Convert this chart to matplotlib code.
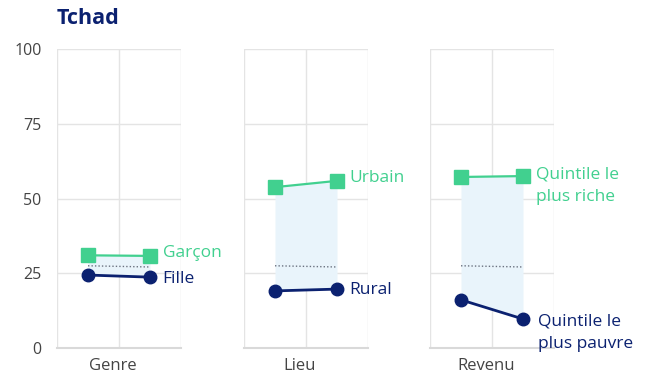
import matplotlib.pyplot as plt
import numpy as np

plt.rcParams['font.family'] = ['Open Sans', 'DejaVu Sans']

# data
panels = ["Genre", "Lieu", "Revenu"]
top_labels = ["Garçon", "Urbain", "Quintile le\nplus riche"]
bottom_labels = ["Fille", "Rural", "Quintile le\nplus pauvre"]
top_vals = [[31.0, 30.8], [53.8, 55.9], [57.2, 57.5]]
bottom_vals = [[24.4, 23.7], [19.1, 19.7], [16.1, 9.7]]
avg_vals = [[27.5, 27.1], [27.5, 27.1], [27.5, 27.1]]

green = "#41d08f"
navy = "#0b2170"
grid_col = "#e4e4e4"

fig = plt.figure(figsize=(6.58, 3.81), dpi=100)
lefts = [57 / 658, 244 / 658, 430 / 658]
x = np.array([1, 3])

for i, name in enumerate(panels):
    ax = fig.add_axes([lefts[i], 0.0866, 124 / 658, 0.7848])
    top = np.array(top_vals[i])
    bot = np.array(bottom_vals[i])

    ax.fill_between(x, bot, top, color="#e9f4fb", lw=0, zorder=1)
    ax.plot(x, avg_vals[i], ls=(0, (1, 1.5)), color="#6b7280", lw=1, zorder=2)
    ax.plot(x, top, color=green, lw=1.6, marker="s", ms=10, zorder=3)
    ax.plot(x, bot, color=navy, lw=2, marker="o", ms=9, zorder=3)

    dy_top, dy_bot, dx_bot = 2, -1, 9
    if i == 2:
        dy_top, dy_bot, dx_bot = -7, -10, 11
    ax.annotate(top_labels[i], (x[1], top[1]), xytext=(9, dy_top),
                textcoords="offset points", color=green, fontsize=12.5,
                va="center", ha="left", linespacing=1.5, annotation_clip=False)
    ax.annotate(bottom_labels[i], (x[1], bot[1]), xytext=(dx_bot, dy_bot),
                textcoords="offset points", color=navy, fontsize=12.5,
                va="center", ha="left", linespacing=1.5, annotation_clip=False)

    ax.set_xlim(0, 4)
    ax.set_ylim(0, 100)
    ax.set_xticks([0, 2, 4])
    ax.set_xticklabels([])
    ax.set_yticks([0, 25, 50, 75, 100])
    ax.grid(True, color=grid_col, lw=1)
    ax.set_axisbelow(True)
    ax.tick_params(length=0, labelsize=11.5, labelcolor="#444444", pad=11)
    if i > 0:
        ax.set_yticklabels([])
    for s in ["top", "right", "left"]:
        ax.spines[s].set_visible(False)
    ax.spines["bottom"].set_color("#d9d9d9")
    ax.spines["bottom"].set_linewidth(1.5)
    ax.text(1.8, -3.5, name, ha="center", va="top", fontsize=12, color="#444444")

fig.text(57 / 658, 1 - 18 / 381, "Tchad", fontsize=15.5, fontweight="bold",
         color=navy, va="center", ha="left")

fig.savefig("out.png", dpi=100)
